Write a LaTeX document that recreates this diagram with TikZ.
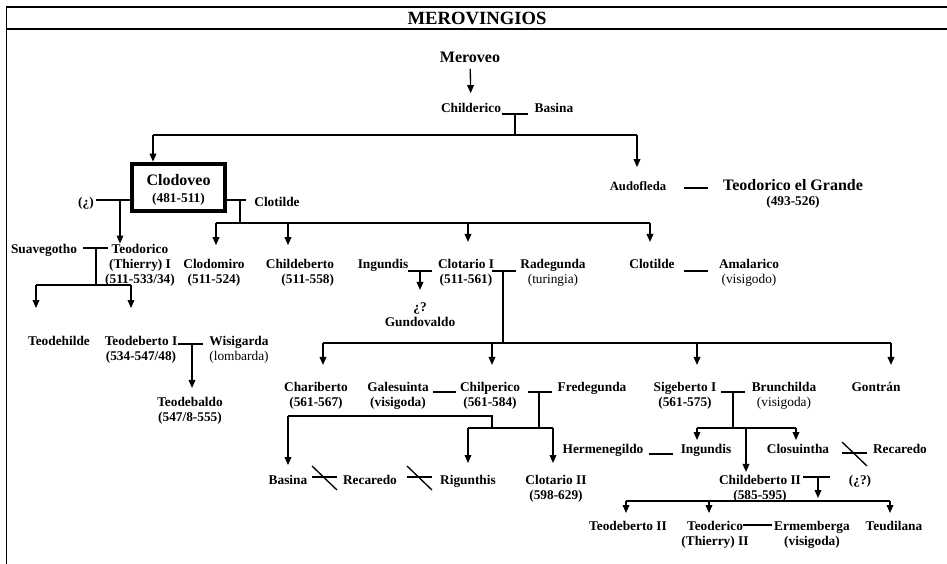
\documentclass[tikz,border=0pt]{standalone}
\usepackage{fontspec}
\setmainfont{Liberation Serif}
\usetikzlibrary{arrows.meta}

\newcommand{\nb}[1]{{\mdseries #1}}

\begin{document}
\begin{tikzpicture}[x=0.75pt, y=-0.75pt, line width=1pt,
    >={Triangle[width=5pt,length=6pt]},
    nm/.style={anchor=north, inner sep=0pt, align=center,
               font=\bfseries\fontsize{10}{11.25}\selectfont},
    big/.style={font=\bfseries\fontsize{12}{14}\selectfont},
    rey/.style={nm, anchor=center, draw, line width=3.5pt,
                minimum width=69.75pt, minimum height=35.25pt}]

\useasboundingbox (0,0) rectangle (947,564);

% frame and title
\draw (947,7) -- (6.5,7) -- (6.5,564);
\draw (6.5,29) -- (947,29);
\node[nm, anchor=center, font=\bfseries\fontsize{14}{16}\selectfont] (title) at (477,18) {MEROVINGIOS};

% ---- people ----
\node[nm, big] (meroveo) at (470,51.5) {Meroveo};
\node[nm] (childerico) at (471,102.5) {Childerico};
\node[nm] (basina) at (554,102.5) {Basina};

\node[rey] (clodoveo) at (178.5,187.5) {\rule{0pt}{12pt}{\fontsize{12}{12}\selectfont Clodoveo}\\[1.5pt](481-511)};
\node[nm] (duda) at (86,196.5) {(¿)};
\node[nm] (clotilde) at (277,196.5) {Clotilde};
\node[nm, font=\bfseries\fontsize{9.5}{11}\selectfont] (audofleda) at (638,180.5) {Audofleda};
\node[nm] (grande) at (793,178.5) {{\fontsize{12}{12}\selectfont Teodorico el Grande}\\(493-526)};

\node[nm] (suavegotho) at (44,243.5) {Suavegotho};
\node[nm] (teodorico) at (140,243.5) {Teodorico\\(Thierry) I\\(511-533/34)};
\node[nm] (clodomiro) at (214,258.5) {Clodomiro\\(511-524)};
\node[nm, align=right] (childeberto) at (300,258.5) {Childeberto\\(511-558)};
\node[nm] (ingundis) at (383,258.5) {Ingundis};
\node[nm] (clotario) at (466,258.5) {Clotario I\\(511-561)};
\node[nm] (radegunda) at (553,258.5) {Radegunda\\\nb{(turingia)}};
\node[nm] (clotildeH) at (652,258.5) {Clotilde};
\node[nm] (amalarico) at (749,258.5) {Amalarico\\\nb{(visigodo)}};
\node[nm] (gundovaldo) at (420,302.5) {¿?\\Gundovaldo};

\node[nm] (teodehilde) at (59,335.5) {Teodehilde};
\node[nm] (teodeberto) at (141,335.5) {Teodeberto I\\(534-547/48)};
\node[nm] (wisigarda) at (239,335.5) {Wisigarda\\\nb{(lombarda)}};
\node[nm] (teodebaldo) at (190,396.5) {Teodebaldo\\(547/8-555)};

\node[nm] (chariberto) at (316,381.5) {Chariberto\\(561-567)};
\node[nm] (galesuinta) at (398,381.5) {Galesuinta\\(visigoda)};
\node[nm] (chilperico) at (490,381.5) {Chilperico\\(561-584)};
\node[nm] (fredegunda) at (592,381.5) {Fredegunda};
\node[nm] (sigeberto) at (685,381.5) {Sigeberto I\\(561-575)};
\node[nm] (brunchilda) at (784,381.5) {Brunchilda\\\nb{(visigoda)}};
\node[nm] (gontran) at (876,381.5) {Gontrán};

\node[nm] (hermenegildo) at (603,443.5) {Hermenegildo};
\node[nm] (ingundisN) at (706,443.5) {Ingundis};
\node[nm] (closuintha) at (798,443.5) {Closuintha};
\node[nm] (recaredoV) at (900,443.5) {Recaredo};

\node[nm] (basinaN) at (288,474.5) {Basina};
\node[nm] (recaredo) at (370,474.5) {Recaredo};
\node[nm] (rigunthis) at (468,474.5) {Rigunthis};
\node[nm] (clotarioII) at (556,474.5) {Clotario II\\(598-629)};
\node[nm] (childebertoII) at (760,474.5) {Childeberto II\\(585-595)};
\node[nm] (dudaB) at (860,474.5) {(¿?)};

\node[nm] (teodebertoII) at (628,520.5) {Teodeberto II};
\node[nm] (teoderico) at (715,520.5) {Teoderico\\(Thierry) II};
\node[nm] (ermemberga) at (812,520.5) {Ermemberga\\(visigoda)};
\node[nm] (teudilana) at (894,520.5) {Teudilana};

% ---- lines ----
% Meroveo -> Childerico
\draw[->, shorten <=4pt, shorten >=7pt] (meroveo) -- (childerico);

% Childerico x Basina
\coordinate (mChil) at (515,114);
\coordinate (aClod) at (153,135);
\coordinate (aAudo) at (637,135);
\draw (mChil) +(-13,0) -- +(13,0);
\draw (mChil) -- (515,135);
\draw (aClod) -- (aAudo);
\draw[->] (aClod) -- (aClod |- clodoveo.north);
\draw[->, shorten >=10pt] (aAudo) -- (aAudo |- audofleda.north);

% Audofleda x Teodorico el Grande
\draw (684,188) -- (708,188);

% Clodoveo x (?) and x Clotilde
\coordinate (qL) at (120,200);
\coordinate (qR) at (240,200);
\draw[shorten <=1pt] (duda.east |- qL) -- (qL -| clodoveo.west);
\draw[->] (qL) -- (qL |- teodorico.north);
\draw[shorten >=6pt] (qR -| clodoveo.east) -- (qR -| clotilde.west);
\draw (qR) -- (240,223);
\draw (216,223) -- (650,223);
\foreach \x/\n/\g in {216/clodomiro/10, 288/childeberto/10, 468/clotario/12.4, 650/clotildeH/12.4}
  \draw[->, shorten >=\g pt] (\x,223) -- (\x,223 |- \n.north);

% Suavegotho x Teodorico
\coordinate (mTeo) at (96,248);
\draw (mTeo) +(-13,0) -- +(12,0);
\draw (mTeo) -- (96,285);
\draw (36,285) -- (131,285);
\foreach \x/\n in {36/teodehilde, 131/teodeberto}
  \draw[->, shorten >=20.6pt] (\x,285) -- (\x,285 |- \n.north);

% Teodeberto I x Wisigarda
\coordinate (mTdb) at (192,344);
\draw (mTdb) +(-14,0) -- +(11,0);
\draw[->, shorten >=6.4pt] (mTdb) -- (mTdb |- teodebaldo.north);

% Ingundis x Clotario I
\coordinate (mIng) at (420,271);
\draw (mIng) +(-12,0) -- +(12,0);
\draw[->, shorten >=9.4pt] (mIng) -- (mIng |- gundovaldo.north);

% Clotario I x Radegunda
\coordinate (mRad) at (503,271);
\draw (mRad) +(-11,0) -- +(13,0);
\draw (mRad) -- (503,343);
\draw (323,343) -- (891,343);
\foreach \x/\n in {323/chariberto, 492/chilperico, 697/sigeberto, 891/gontran}
  \draw[->, shorten >=12.4pt] (\x,343) -- (\x,343 |- \n.north);

% Clotilde x Amalarico
\draw (684,271) -- (708,271);

% Galesuinta x Chilperico
\draw (433,392) -- (456,392);

% Chilperico x Fredegunda
\coordinate (mFre) at (539,392);
\draw (mFre) +(-11,0) -- +(13,0);
\draw (mFre) -- (539,428);
\draw (468,428) -- (553,428);
\draw (288,416) -| (492,428);
\draw[->, shorten >=7.1pt] (288,416) -- (288,416 |- basinaN.north);
\foreach \x/\n in {468/rigunthis, 553/clotarioII}
  \draw[->, shorten >=8.6pt] (\x,428) -- (\x,428 |- \n.north);

% broken unions
\foreach \x/\y in {312/477, 407/477, 842/453} {
  \draw (\x,\y) -- ++(25,0);
  \draw (\x,\y-11) -- ++(25,24);
}

% Sigeberto I x Brunchilda
\coordinate (mBru) at (733,392);
\draw (mBru) +(-12,0) -- +(12,0);
\draw (mBru) -- (733,428);
\draw (697,428) -- (796,428);
\foreach \x/\n in {697/ingundisN, 796/closuintha}
  \draw[->, shorten >=2.6pt] (\x,428) -- (\x,428 |- \n.north);
\draw[->, shorten >=1.9pt] (746,428) -- (746,428 |- childebertoII.north);

% Hermenegildo x Ingundis
\draw (649,454) -- (673,454);

% Childeberto II
\coordinate (mChB) at (818,477);
\draw (mChB) +(-15,0) -- +(12,0);
\draw[->] (mChB) -- (818,498);
\draw (626,501) -- (890,501);
\foreach \x/\n in {626/teodebertoII, 709/teoderico, 890/teudilana}
  \draw[->, shorten >=5.6pt] (\x,501) -- (\x,501 |- \n.north);

% Teoderico x Ermemberga
\draw (743,525) -- (772,525);

\end{tikzpicture}
\end{document}
